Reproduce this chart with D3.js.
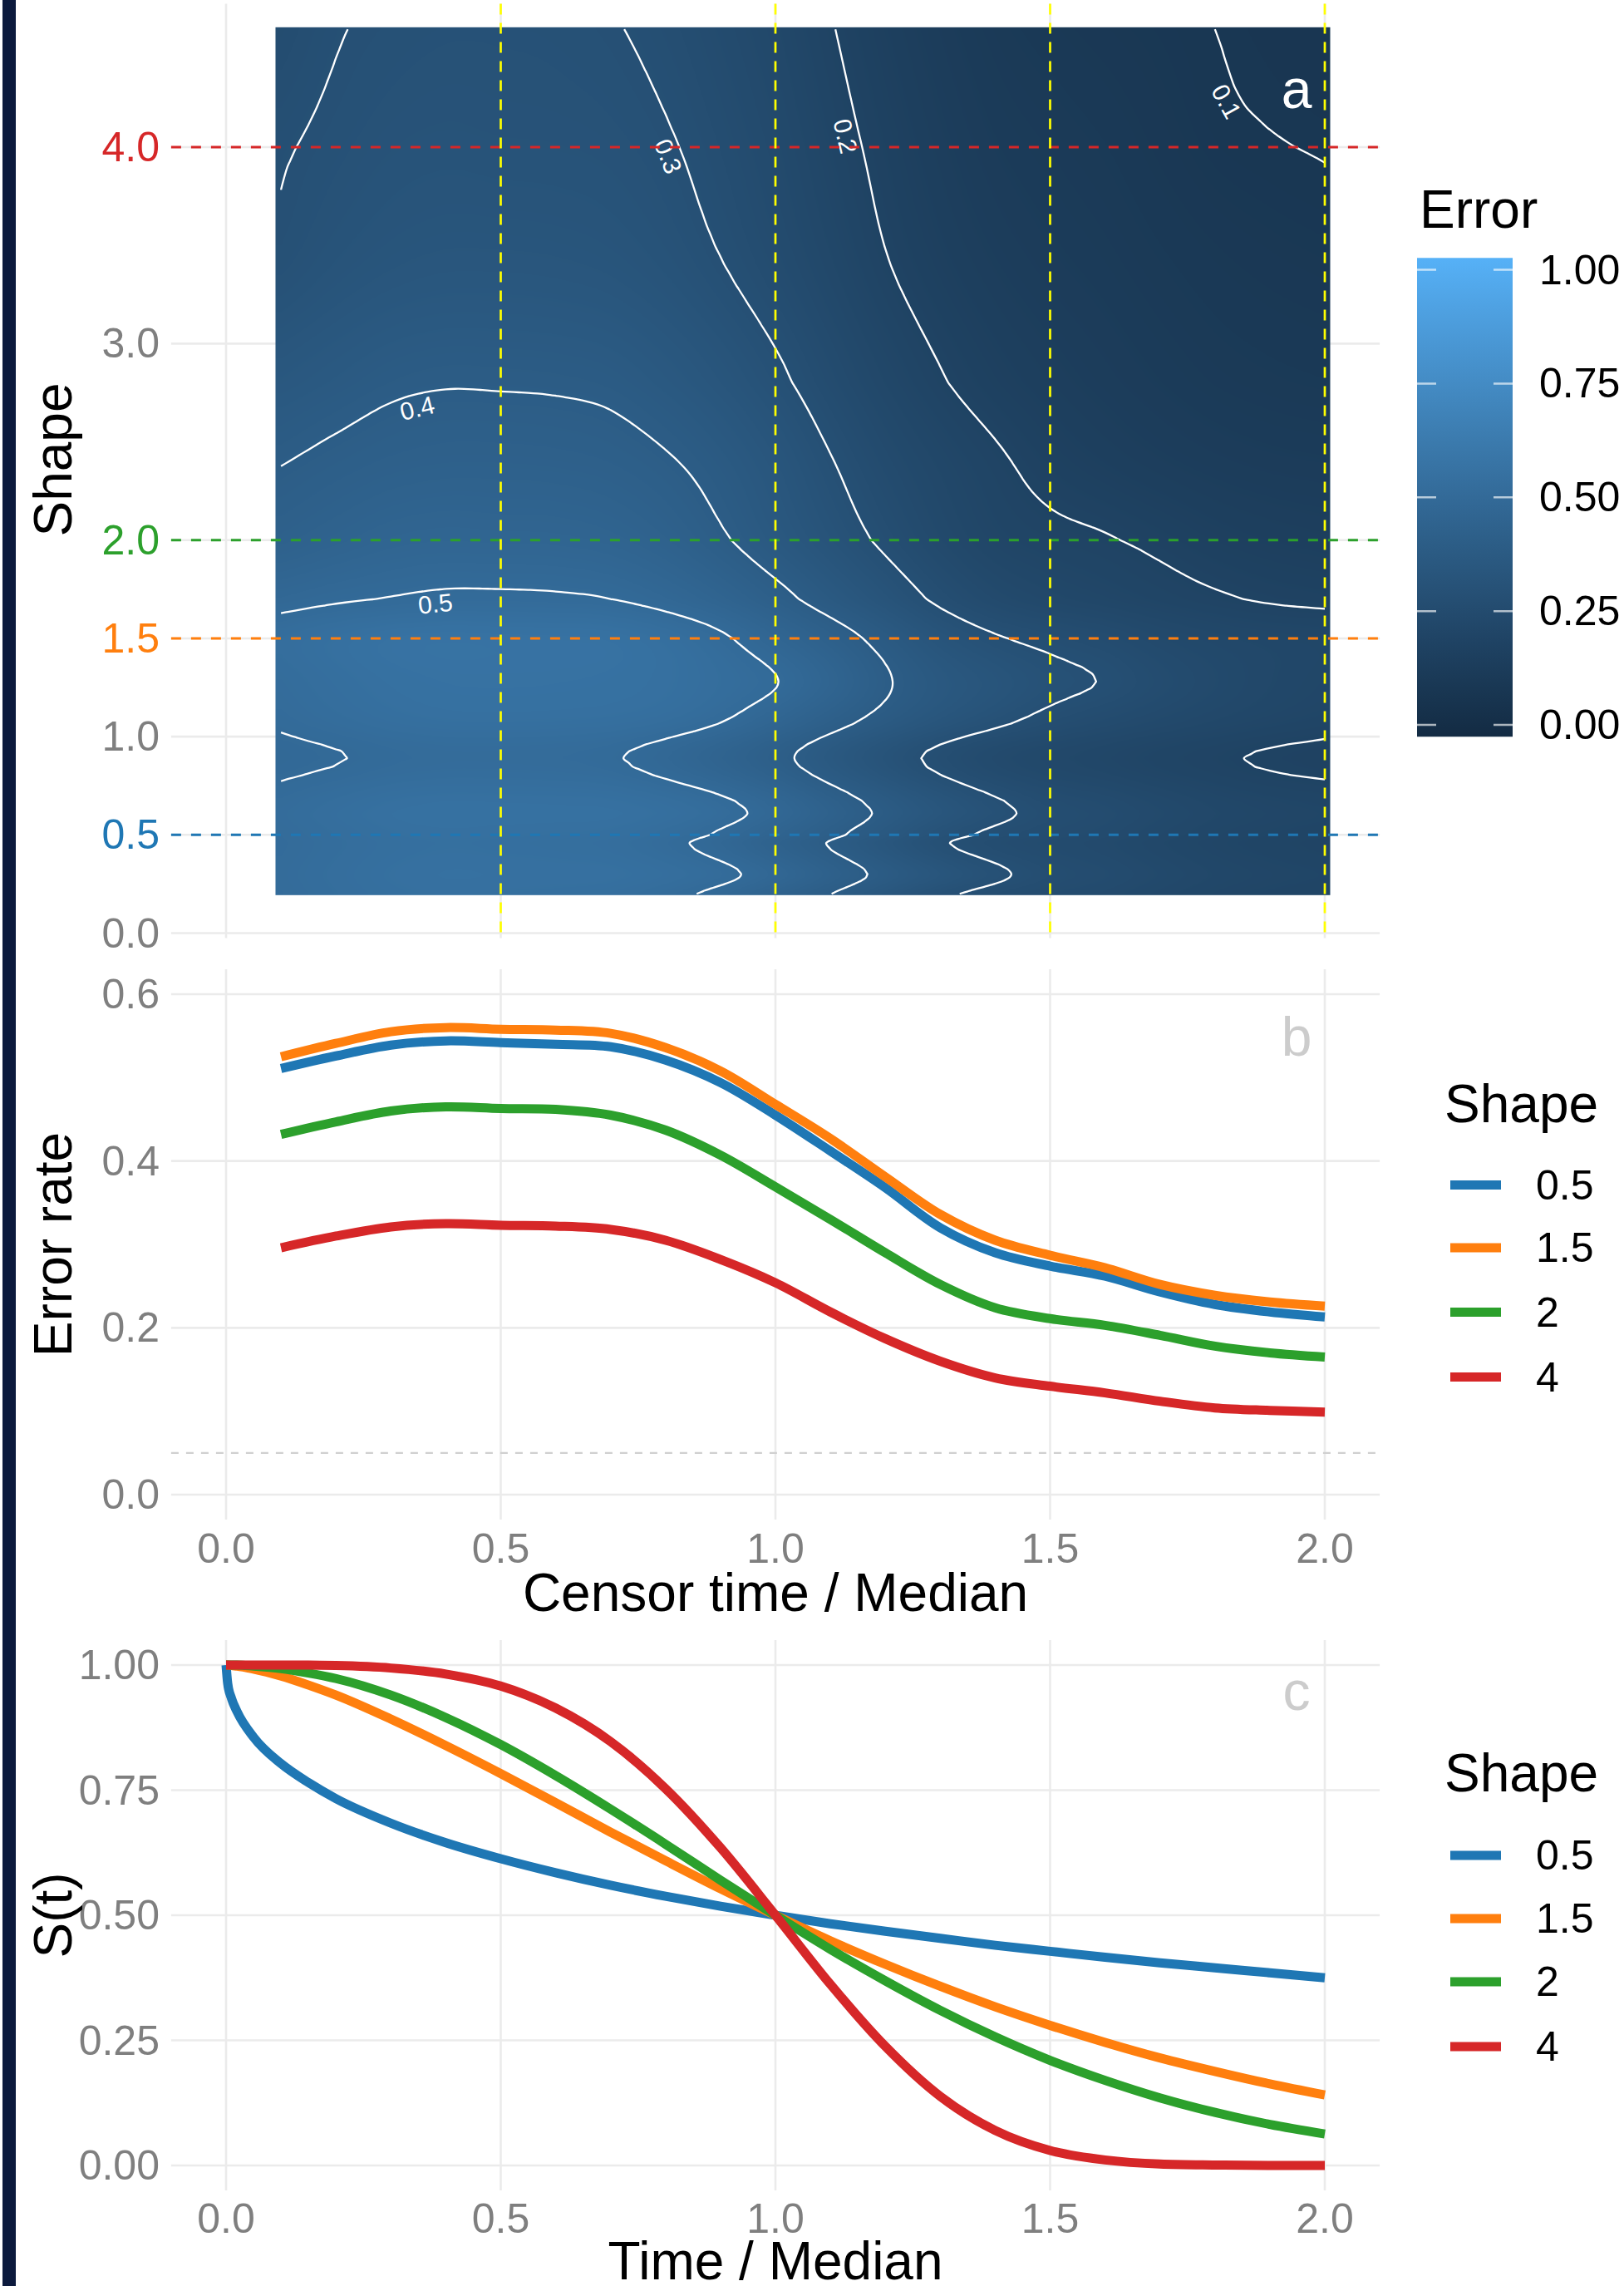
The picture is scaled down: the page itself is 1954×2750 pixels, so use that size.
<!DOCTYPE html>
<html>
<head>
<meta charset="utf-8">
<script src="https://cdn.jsdelivr.net/npm/d3@7"></script>
<style>
  html, body { margin: 0; padding: 0; background: #fff; }
  svg { display: block; }
  text { font-family: "Liberation Sans", Arial, Helvetica, sans-serif; }
</style>
</head>
<body>
<svg id="chart" width="1954" height="2750"></svg>
<script>
// ---- data ----
const censorTimes = [0.1, 0.2, 0.3, 0.4, 0.5, 0.6, 0.7, 0.8, 0.9, 1.0, 1.1, 1.2, 1.3, 1.4, 1.5, 1.6, 1.7, 1.8, 1.9, 2.0];

// panel b series (error rate vs censor time / median), also rows of the heat map
const errorShape05 = [0.511, 0.526, 0.539, 0.544, 0.542, 0.540, 0.537, 0.521, 0.494, 0.455, 0.412, 0.368, 0.320, 0.290, 0.274, 0.262, 0.243, 0.228, 0.219, 0.213];
const errorShape15 = [0.525, 0.541, 0.555, 0.560, 0.558, 0.557, 0.553, 0.536, 0.508, 0.468, 0.427, 0.381, 0.336, 0.305, 0.287, 0.272, 0.252, 0.239, 0.231, 0.226];
const errorShape2 = [0.432, 0.447, 0.460, 0.465, 0.463, 0.462, 0.455, 0.437, 0.407, 0.369, 0.330, 0.290, 0.252, 0.224, 0.211, 0.203, 0.191, 0.178, 0.170, 0.165];
const errorShape4 = [0.296, 0.310, 0.321, 0.325, 0.323, 0.322, 0.318, 0.305, 0.282, 0.254, 0.219, 0.187, 0.160, 0.140, 0.130, 0.122, 0.112, 0.104, 0.101, 0.099];

const errorShape02 = [0.510, 0.525, 0.537, 0.542, 0.540, 0.537, 0.532, 0.515, 0.486, 0.445, 0.401, 0.357, 0.312, 0.283, 0.268, 0.257, 0.240, 0.226, 0.217, 0.211];
const errorShape03 = [0.513, 0.528, 0.541, 0.547, 0.546, 0.545, 0.543, 0.532, 0.512, 0.476, 0.430, 0.386, 0.345, 0.309, 0.282, 0.268, 0.250, 0.234, 0.224, 0.218];
const errorShape045 = [0.509, 0.523, 0.535, 0.540, 0.538, 0.535, 0.530, 0.512, 0.482, 0.440, 0.397, 0.352, 0.307, 0.279, 0.265, 0.254, 0.237, 0.223, 0.214, 0.208];
const errorShape063 = [0.515, 0.531, 0.545, 0.551, 0.550, 0.549, 0.547, 0.536, 0.515, 0.479, 0.433, 0.388, 0.346, 0.311, 0.283, 0.269, 0.251, 0.235, 0.225, 0.219];
const errorShape089 = [0.490, 0.498, 0.508, 0.513, 0.513, 0.511, 0.504, 0.482, 0.452, 0.415, 0.370, 0.327, 0.287, 0.257, 0.240, 0.228, 0.215, 0.205, 0.196, 0.190];
const errorShape11 = [0.508, 0.523, 0.536, 0.543, 0.544, 0.543, 0.540, 0.530, 0.507, 0.470, 0.427, 0.385, 0.348, 0.317, 0.289, 0.270, 0.253, 0.238, 0.226, 0.217];
const errorShape128 = [0.517, 0.534, 0.548, 0.555, 0.556, 0.555, 0.552, 0.543, 0.525, 0.502, 0.458, 0.406, 0.366, 0.338, 0.313, 0.297, 0.272, 0.252, 0.236, 0.226];
const errorShape17 = [0.482, 0.494, 0.502, 0.508, 0.508, 0.506, 0.500, 0.482, 0.455, 0.418, 0.375, 0.333, 0.290, 0.258, 0.240, 0.228, 0.216, 0.205, 0.196, 0.191];
const errorShape24 = [0.398, 0.412, 0.423, 0.428, 0.428, 0.426, 0.420, 0.405, 0.380, 0.346, 0.303, 0.263, 0.232, 0.207, 0.185, 0.170, 0.158, 0.149, 0.143, 0.140];
const errorShape28 = [0.362, 0.377, 0.391, 0.397, 0.396, 0.394, 0.388, 0.370, 0.345, 0.312, 0.272, 0.235, 0.204, 0.180, 0.163, 0.150, 0.139, 0.130, 0.125, 0.122];
const errorShape34 = [0.310, 0.330, 0.343, 0.349, 0.349, 0.347, 0.341, 0.326, 0.302, 0.272, 0.238, 0.203, 0.176, 0.156, 0.143, 0.134, 0.124, 0.116, 0.111, 0.108];
const errorShape46 = [0.275, 0.297, 0.307, 0.312, 0.312, 0.310, 0.303, 0.288, 0.265, 0.238, 0.203, 0.172, 0.146, 0.127, 0.117, 0.110, 0.105, 0.100, 0.096, 0.093];

const gridShapes = [0.2, 0.3, 0.45, 0.5, 0.63, 0.89, 1.1, 1.28, 1.5, 1.7, 2.0, 2.4, 2.8, 3.4, 4.0, 4.6];
const gridRows = [errorShape02, errorShape03, errorShape045, errorShape05, errorShape063, errorShape089, errorShape11,
  errorShape128, errorShape15, errorShape17, errorShape2, errorShape24, errorShape28, errorShape34, errorShape4, errorShape46];

const contourLevels = [0.1, 0.2, 0.3, 0.4, 0.5];
const contourLabels = [
  { level: 0.4, at: [0.34, 2.77] },
  { level: 0.5, at: [0.377, 1.76] },
  { level: 0.3, at: [0.818, 3.97] },
  { level: 0.2, at: [1.144, 4.07] },
  { level: 0.1, at: [1.858, 4.29] },
];

// panel c: survival curves
const survTimes = [0, 0.003, 0.01, 0.02, 0.05, 0.1, 0.15, 0.2, 0.3, 0.4, 0.5, 0.6, 0.7, 0.8, 0.9, 1.0, 1.1, 1.2, 1.3, 1.4, 1.5, 1.6, 1.7, 1.8, 1.9, 2.0];
const survShape05 = [1, 0.963, 0.933, 0.907, 0.856, 0.803, 0.765, 0.733, 0.684, 0.645, 0.613, 0.585, 0.560, 0.538, 0.518, 0.500, 0.483, 0.468, 0.454, 0.440, 0.428, 0.416, 0.405, 0.395, 0.385, 0.375];
const survShape15 = [1, 1, 0.999, 0.998, 0.992, 0.978, 0.960, 0.940, 0.892, 0.839, 0.783, 0.725, 0.666, 0.609, 0.553, 0.500, 0.449, 0.402, 0.358, 0.317, 0.280, 0.246, 0.215, 0.188, 0.163, 0.141];
const survShape2 = [1, 1, 1, 1, 0.998, 0.993, 0.984, 0.973, 0.940, 0.895, 0.841, 0.779, 0.712, 0.642, 0.570, 0.500, 0.432, 0.369, 0.310, 0.257, 0.210, 0.170, 0.135, 0.106, 0.082, 0.063];
const survShape4 = [1, 1, 1, 1, 1, 1, 1, 0.999, 0.994, 0.982, 0.958, 0.914, 0.847, 0.753, 0.635, 0.500, 0.362, 0.238, 0.138, 0.070, 0.030, 0.011, 0.003, 0.001, 0, 0];

const shapeNames = ['0.5', '1.5', '2', '4'];
const shapeColors = ['#1f77b4', '#ff7f0e', '#2ca02c', '#d62728'];
const errorSeries = [errorShape05, errorShape15, errorShape2, errorShape4];
const survSeries = [survShape05, survShape15, survShape2, survShape4];

const xTicks = [0, 0.5, 1.0, 1.5, 2.0];
const shapeTicks = [0, 0.5, 1.0, 1.5, 2.0, 3.0, 4.0];
const shapeMarks = [0.5, 1.5, 2.0, 4.0];
const shapeMarkColors = ['#1f77b4', '#ff7f0e', '#2ca02c', '#d62728'];
const censorMarks = [0.5, 1.0, 1.5, 2.0];
const errorTicks = [0, 0.2, 0.4, 0.6];
const errorRef = 0.05;
const survTicks = [0, 0.25, 0.5, 0.75, 1.0];
const fillTicks = [0, 0.25, 0.5, 0.75, 1.0];

// ---- layout ----
const svg = d3.select('#chart');
const GRID = '#ebebeb', TICK = '#7f7f7f';

const x = d3.scaleLinear().domain([0, 2]).range([272, 1594]);
const yA = d3.scaleLinear().domain([0, 4]).range([1122.5, 177]);
const yB = d3.scaleLinear().domain([0, 0.6]).range([1798, 1196]);
const yC = d3.scaleLinear().domain([0, 1]).range([2605, 2003]);
const px0 = x(-0.1), px1 = x(2.1);
const panelA = [yA(4.73), yA(-0.025)];
const panelB = [yB(0.63), yB(-0.03)];
const panelC = [yC(1.05), yC(-0.05)];

svg.append('rect').attr('x', 3).attr('y', 0).attr('width', 16).attr('height', 2750).attr('fill', '#0c1a3d');

function gridlines(g, y, yTicks, span) {
  g.append('g').selectAll('line').data(xTicks).join('line')
    .attr('x1', d => x(d)).attr('x2', d => x(d)).attr('y1', span[0]).attr('y2', span[1])
    .attr('stroke', GRID).attr('stroke-width', 2.6);
  g.append('g').selectAll('line').data(yTicks).join('line')
    .attr('x1', px0).attr('x2', px1).attr('y1', d => y(d)).attr('y2', d => y(d))
    .attr('stroke', GRID).attr('stroke-width', 2.6);
}

function yLabels(g, y, ticks, fmt, colorOf) {
  g.append('g').selectAll('text').data(ticks).join('text')
    .attr('x', 192).attr('y', d => y(d)).attr('text-anchor', 'end').attr('dominant-baseline', 'central')
    .attr('font-size', 50).attr('fill', colorOf).text(fmt);
}

function xLabels(g, baseline) {
  g.append('g').selectAll('text').data(xTicks).join('text')
    .attr('x', d => x(d)).attr('y', baseline).attr('text-anchor', 'middle')
    .attr('font-size', 50).attr('fill', TICK).text(d3.format('.1f'));
}

function axisTitle(g, text, cx, cy, rotate) {
  g.append('text').attr('transform', `translate(${cx},${cy})${rotate ? ' rotate(-90)' : ''}`)
    .attr('text-anchor', 'middle').attr('font-size', 64).attr('fill', '#000').text(text);
}

function shapeLegend(g, titleY, keyYs) {
  g.append('text').attr('x', 1738).attr('y', titleY).attr('font-size', 64).text('Shape');
  const item = g.append('g').selectAll('g').data(shapeNames).join('g')
    .attr('transform', (d, i) => `translate(0,${keyYs[i]})`);
  item.append('line').attr('x1', 1745).attr('x2', 1806).attr('stroke', (d, i) => shapeColors[i]).attr('stroke-width', 11);
  item.append('text').attr('x', 1848).attr('dominant-baseline', 'central').attr('font-size', 50).text(d => d);
}

// ---- panel a: heat map ----
const gA = svg.append('g');
gridlines(gA, yA, shapeTicks, panelA);

const n = censorTimes.length, m = gridShapes.length;
const fill = d3.scaleLinear().domain([0, 1]).range(['#132B43', '#56B1F7']).interpolate(d3.interpolateLab);
const lut = d3.range(1001).map(i => d3.rgb(fill(i / 1000)));
const colIdx = d3.scaleLinear().domain(censorTimes).range(d3.range(n)).clamp(true);
const rowIdx = d3.scaleLinear().domain(gridShapes).range(d3.range(m)).clamp(true);
const idxToX = d3.scaleLinear().domain(d3.range(n)).range(censorTimes);
const idxToShape = d3.scaleLinear().domain(d3.range(m)).range(gridShapes);

// smooth (cubic) resampling of the grid in index space, for raster and contour rendering
const F = 6, nF = (n - 1) * F + 1, mF = (m - 1) * F + 1;
function cubic(p0, p1, p2, p3, t) {
  return p1 + 0.5 * t * (p2 - p0 + t * (2 * p0 - 5 * p1 + 4 * p2 - p3 + t * (3 * (p1 - p2) + p3 - p0)));
}
// neighbours past the grid edge are extended linearly
function at(arr, k) {
  if (k < 0) return 2 * arr(0) - arr(1);
  if (k >= arr.len) return 2 * arr(arr.len - 1) - arr(arr.len - 2);
  return arr(k);
}
function sampleGrid(u, v) {
  const i = Math.min(Math.floor(u), n - 2), tx = u - i;
  const j = Math.min(Math.floor(v), m - 2), ty = v - j;
  const rowAt = jj => {
    const R = gridRows[jj];
    const get = Object.assign(k => R[k], { len: n });
    return cubic(at(get, i - 1), R[i], R[i + 1], at(get, i + 2), tx);
  };
  const col = Object.assign(k => rowAt(k), { len: m });
  return cubic(at(col, j - 1), rowAt(j), rowAt(j + 1), at(col, j + 2), ty);
}
const fine = new Float64Array(nF * mF);
for (let b = 0; b < mF; b++) for (let a = 0; a < nF; a++) fine[b * nF + a] = sampleGrid(a / F, b / F);

const rx0 = x(0.09), rx1 = x(2.01), ry0 = yA(4.61), ry1 = yA(0.195);
const W = Math.round(rx1 - rx0), H = Math.round(ry1 - ry0);
const canvas = document.createElement('canvas');
canvas.width = W; canvas.height = H;
const ctx = canvas.getContext('2d');
const img = ctx.createImageData(W, H);
const fx = d3.range(W).map(p => colIdx(x.invert(rx0 + p + 0.5)) * F);
for (let py = 0; py < H; py++) {
  const fy = rowIdx(yA.invert(ry0 + py + 0.5)) * F;
  const j0 = Math.min(Math.floor(fy), mF - 1), j1 = Math.min(j0 + 1, mF - 1), ty = fy - j0;
  for (let p = 0; p < W; p++) {
    const fi = fx[p], i0 = Math.min(Math.floor(fi), nF - 1), i1 = Math.min(i0 + 1, nF - 1), tx = fi - i0;
    const v = (fine[j0 * nF + i0] * (1 - tx) + fine[j0 * nF + i1] * tx) * (1 - ty)
            + (fine[j1 * nF + i0] * (1 - tx) + fine[j1 * nF + i1] * tx) * ty;
    const c = lut[Math.max(0, Math.min(1000, Math.round(v * 1000)))];
    const k = (py * W + p) * 4;
    img.data[k] = c.r; img.data[k + 1] = c.g; img.data[k + 2] = c.b; img.data[k + 3] = 255;
  }
}
ctx.putImageData(img, 0, 0);
gA.append('image').attr('x', rx0).attr('y', ry0).attr('width', W).attr('height', H)
  .attr('preserveAspectRatio', 'none').attr('href', canvas.toDataURL());

// contour lines
const onEdge = p => p[0] <= 0 || p[0] >= nF || p[1] <= 0 || p[1] >= mF;
function isolines(level) {
  const geo = d3.contours().size([nF, mF]).contour(fine, level);
  const runs = [];
  for (const poly of geo.coordinates) for (const ring0 of poly) {
    const ring = ring0.slice(0, -1);
    const k = ring.findIndex(onEdge);
    if (k < 0) { runs.push(ring.concat([ring[0]])); continue; }
    let cur = [];
    for (const p of ring.slice(k).concat(ring.slice(0, k))) {
      if (onEdge(p)) { if (cur.length > 1) runs.push(cur); cur = []; }
      else cur.push(p);
    }
    if (cur.length > 1) runs.push(cur);
  }
  return runs.map(r => r.map(p => [x(idxToX((p[0] - 0.5) / F)), yA(idxToShape((p[1] - 0.5) / F))]));
}
const contourLine = d3.line().curve(d3.curveCatmullRom.alpha(0.5));
const contourG = gA.append('g');
const pathsByLevel = new Map();
for (const level of contourLevels) {
  const paths = contourG.selectAll(null).data(isolines(level)).join('path')
    .attr('d', contourLine).attr('fill', 'none').attr('stroke', '#fff').attr('stroke-width', 2.3);
  pathsByLevel.set(level, paths.nodes());
}
const labelG = gA.append('g');
for (const lab of contourLabels) {
  const tx = x(lab.at[0]), ty = yA(lab.at[1]);
  let best = null;
  for (const node of pathsByLevel.get(lab.level)) {
    const len = node.getTotalLength();
    for (let l = 0; l <= len; l += 2) {
      const q = node.getPointAtLength(l);
      const d = (q.x - tx) ** 2 + (q.y - ty) ** 2;
      if (!best || d < best.d) best = { d, node, l, q };
    }
  }
  const len = best.node.getTotalLength();
  const a = best.node.getPointAtLength(Math.max(0, best.l - 6));
  const b = best.node.getPointAtLength(Math.min(len, best.l + 6));
  let ang = Math.atan2(b.y - a.y, b.x - a.x) * 180 / Math.PI;
  if (ang > 90) ang -= 180;
  if (ang < -90) ang += 180;
  labelG.append('text').attr('transform', `translate(${best.q.x},${best.q.y}) rotate(${ang})`)
    .attr('dy', '0.9em').attr('text-anchor', 'middle').attr('font-size', 30).attr('fill', '#fff')
    .text(d3.format('.1f')(lab.level));
}

gA.append('g').selectAll('line').data(shapeMarks).join('line')
  .attr('x1', px0).attr('x2', px1).attr('y1', d => yA(d)).attr('y2', d => yA(d))
  .attr('stroke', (d, i) => shapeMarkColors[i]).attr('stroke-width', 3).attr('stroke-dasharray', '12 12');
gA.append('g').selectAll('line').data(censorMarks).join('line')
  .attr('x1', d => x(d)).attr('x2', d => x(d)).attr('y1', panelA[0]).attr('y2', panelA[1])
  .attr('stroke', '#ffff00').attr('stroke-width', 2.7).attr('stroke-dasharray', '13 10');
gA.append('text').attr('x', 1560).attr('y', 130).attr('text-anchor', 'middle').attr('font-size', 66).attr('fill', '#fff').text('a');

yLabels(gA, yA, shapeTicks, d3.format('.1f'), d => {
  const i = shapeMarks.indexOf(d);
  return i < 0 ? TICK : shapeMarkColors[i];
});
axisTitle(gA, 'Shape', 86, 553, true);

// colour bar legend
const bar = d3.scaleLinear().domain([0, 1]).range([872, 324.5]);
const grad = svg.append('defs').append('linearGradient').attr('id', 'errGrad')
  .attr('x1', 0).attr('y1', 1).attr('x2', 0).attr('y2', 0);
grad.selectAll('stop').data(d3.range(0, 1.001, 0.1)).join('stop')
  .attr('offset', d => d).attr('stop-color', d => fill(d));
const gL = svg.append('g');
gL.append('text').attr('x', 1708).attr('y', 274).attr('font-size', 64).text('Error');
gL.append('rect').attr('x', 1705).attr('width', 115).attr('y', bar(1.026)).attr('height', bar(-0.026) - bar(1.026))
  .attr('fill', 'url(#errGrad)');
gL.append('g').selectAll('path').data(fillTicks).join('path')
  .attr('d', d => `M1705,${bar(d)}h23M1797,${bar(d)}h23`)
  .attr('stroke', '#fff').attr('stroke-opacity', 0.65).attr('stroke-width', 2.5);
gL.append('g').selectAll('text').data(fillTicks).join('text')
  .attr('x', 1852).attr('y', d => bar(d)).attr('dominant-baseline', 'central').attr('font-size', 50)
  .text(d3.format('.2f'));

// ---- panel b: error rate ----
const gB = svg.append('g');
gridlines(gB, yB, errorTicks, panelB);
gB.append('line').attr('x1', px0).attr('x2', px1).attr('y1', yB(errorRef)).attr('y2', yB(errorRef))
  .attr('stroke', '#d0d0d0').attr('stroke-width', 2.4).attr('stroke-dasharray', '9 9');
const errLine = d3.line().x((d, i) => x(censorTimes[i])).y(d => yB(d)).curve(d3.curveCatmullRom.alpha(0.5));
gB.append('g').selectAll('path').data(errorSeries).join('path')
  .attr('d', errLine).attr('fill', 'none').attr('stroke', (d, i) => shapeColors[i]).attr('stroke-width', 11);
gB.append('text').attr('x', 1560).attr('y', 1270).attr('text-anchor', 'middle').attr('font-size', 66).attr('fill', '#cccccc').text('b');
yLabels(gB, yB, errorTicks, d3.format('.1f'), () => TICK);
xLabels(gB, 1880);
axisTitle(gB, 'Censor time / Median', (px0 + px1) / 2, 1938, false);
axisTitle(gB, 'Error rate', 86, 1497, true);
shapeLegend(gB, 1350, [1425.5, 1501, 1578.6, 1656.6]);

// ---- panel c: survival ----
const gC = svg.append('g');
gridlines(gC, yC, survTicks, panelC);
const survLine = d3.line().x((d, i) => x(survTimes[i])).y(d => yC(d)).curve(d3.curveMonotoneX);
gC.append('g').selectAll('path').data(survSeries).join('path')
  .attr('d', survLine).attr('fill', 'none').attr('stroke', (d, i) => shapeColors[i]).attr('stroke-width', 11);
gC.append('text').attr('x', 1560).attr('y', 2057).attr('text-anchor', 'middle').attr('font-size', 66).attr('fill', '#cccccc').text('c');
yLabels(gC, yC, survTicks, d3.format('.2f'), () => TICK);
xLabels(gC, 2686);
axisTitle(gC, 'Time / Median', (px0 + px1) / 2, 2742, false);
axisTitle(gC, 'S(t)', 86, 2304, true);
shapeLegend(gC, 2155, [2232, 2308, 2384, 2462]);
</script>
</body>
</html>
